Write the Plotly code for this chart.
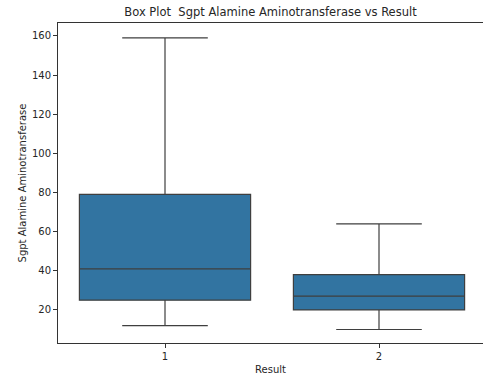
import plotly.graph_objects as go

# Summary statistics of Sgpt Alamine Aminotransferase per Result group
groups = ["1", "2"]
lower_whisker = [12, 10]
q1 = [25, 20]
median = [41, 27]
q3 = [79, 38]
upper_whisker = [159, 64]

tick_vals = [20, 40, 60, 80, 100, 120, 140, 160]

box_fill = "#3274a1"
edge = "#3f3f3f"
font_family = "DejaVu Sans, sans-serif"

fig = go.Figure()
fig.add_trace(go.Box(
    x=groups,
    lowerfence=lower_whisker,
    q1=q1,
    median=median,
    q3=q3,
    upperfence=upper_whisker,
    width=0.8,
    whiskerwidth=0.5,
    fillcolor=box_fill,
    line=dict(color=edge, width=1.2),
    boxpoints=False,
    hoverinfo="skip",
    showlegend=False,
))

fig.update_layout(
    width=483,
    height=376,
    margin=dict(l=58, r=0, t=23, b=33),
    paper_bgcolor="white",
    plot_bgcolor="white",
    font=dict(family=font_family, size=10, color="#262626"),
    title=dict(
        text="Box Plot \u00a0Sgpt Alamine Aminotransferase vs Result",
        x=0.5, xref="paper", xanchor="center",
        y=1 - 12 / 376, yref="container", yanchor="middle",
        font=dict(size=11.5, color="#262626"),
    ),
    xaxis=dict(
        type="category",
        range=[-0.5, 1.486],
        showline=True, linecolor="#333333", linewidth=1, mirror=True,
        ticks="outside", ticklen=4, tickcolor="#333333",
        showgrid=False, zeroline=False,
        title=dict(text="Result", font=dict(size=10), standoff=4),
    ),
    yaxis=dict(
        range=[3.1, 166.6],
        tickvals=tick_vals,
        showline=True, linecolor="#333333", linewidth=1, mirror=False,
        ticks="outside", ticklen=4, tickcolor="#333333",
        showgrid=False, zeroline=False,
        title=dict(text="Sgpt Alamine Aminotransferase", font=dict(size=10), standoff=3),
    ),
)

fig.write_html("out.html")
